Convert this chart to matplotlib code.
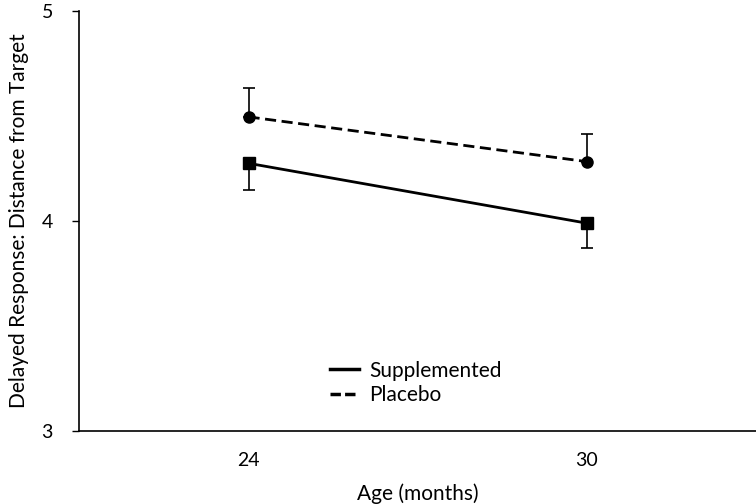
import numpy as np
import matplotlib.pyplot as plt
from matplotlib.lines import Line2D

plt.rcParams['font.family'] = ['Lato', 'DejaVu Sans']

ages = ['24', '30']
supplemented = [4.273, 3.988]
supplemented_err = [0.127, 0.12]
placebo = [4.494, 4.281]
placebo_err = [0.137, 0.13]

fig = plt.figure(figsize=(7.56, 5.04), dpi=100)
ax = fig.add_axes([0.105, 0.1454, 0.895, 0.8336])

x = np.arange(len(ages))

# one-sided error bars: supplemented goes down, placebo goes up
ax.errorbar(x, supplemented, yerr=[supplemented_err, [0, 0]], color='black',
            linestyle='-', linewidth=2, marker='s', markersize=8,
            capsize=4, elinewidth=1.2, capthick=1.2, label='Supplemented')
ax.errorbar(x, placebo, yerr=[[0, 0], placebo_err], color='black',
            linestyle=(0, (4, 2)), linewidth=2, marker='o', markersize=8,
            capsize=4, elinewidth=1.2, capthick=1.2, label='Placebo')

ax.set_xlim(-0.5, 1.5)
ax.set_ylim(3, 5)
ax.set_xticks(x)
ax.set_xticklabels(ages)
ax.set_yticks([3, 4, 5])
ax.tick_params(axis='x', length=0, pad=15, labelsize=14)
ax.tick_params(axis='y', length=5, width=1, pad=14, labelsize=14)

ax.spines['top'].set_visible(False)
ax.spines['right'].set_visible(False)
ax.spines['left'].set_linewidth(1.2)
ax.spines['bottom'].set_linewidth(1.2)

ax.set_xlabel('Age (months)', fontsize=15, labelpad=11)
ax.set_ylabel('Delayed Response: Distance from Target', fontsize=15, labelpad=9)

# legend without markers or error bars
handles = [Line2D([0], [0], color='black', linewidth=2.5, linestyle='-'),
           Line2D([0], [0], color='black', linewidth=2.5, linestyle=(0, (3, 1.2)))]
ax.legend(handles, ['Supplemented', 'Placebo'], frameon=False, fontsize=15,
          loc='center', bbox_to_anchor=(0.497, 0.114), handlelength=1.4,
          handletextpad=0.5, labelspacing=0.2)

fig.savefig('out.png', dpi=100)
